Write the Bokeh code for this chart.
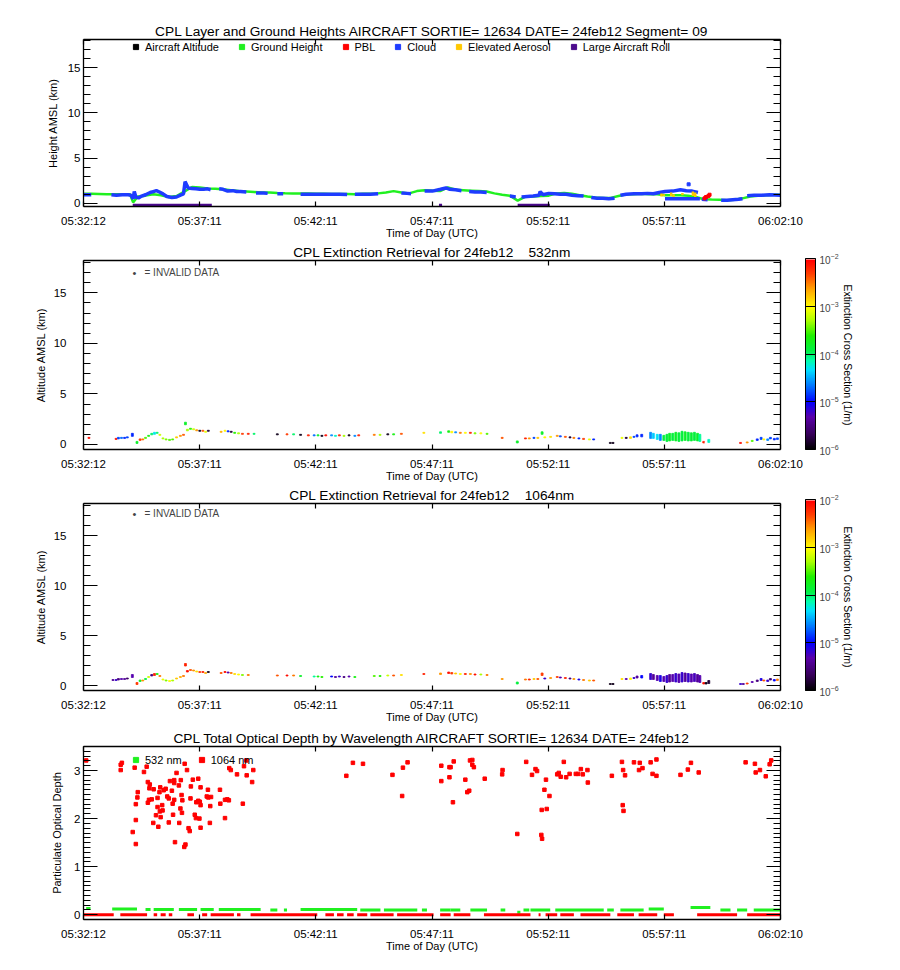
import math
from bokeh.plotting import figure
from bokeh.layouts import column
from bokeh.models import (Range1d, LinearAxis, FixedTicker, SingleIntervalTicker, Legend, LegendItem,
                          Label, ColorBar, LogColorMapper, LogTicker, ColumnDataSource)
from bokeh.embed import file_html
from bokeh.resources import INLINE

nan = float("nan")
FONT = "Liberation Sans"

# ---------------- time axis: seconds after 05:32:12 UTC ----------------
time_span = 1798
time_tick_labels = ["05:32:12", "05:37:11", "05:42:11", "05:47:11", "05:52:11", "05:57:11", "06:02:10"]

# ---------------- panel 1: layer and ground heights (km) ----------------
ground_t = [0, 20, 40, 60, 80, 100, 120, 128, 140, 160,
            180, 200, 220, 240, 260, 280, 300, 320, 340, 360,
            380, 400, 420, 440, 460, 480, 500, 520, 540, 560,
            580, 600, 620, 640, 660, 680, 700, 720, 740, 760,
            780, 800, 820, 840, 860, 880, 900, 920, 940, 960,
            980, 1000, 1020, 1040, 1060, 1080, 1100, 1120, 1140, 1160,
            1180, 1200, 1220, 1240, 1260, 1280, 1300, 1320, 1340, 1360,
            1380, 1400, 1420, 1440, 1460, 1480, 1500, 1520, 1540, 1560,
            1580, 1600, 1620, 1640, 1660, 1680, 1700, 1720, 1740, 1760,
            1780, 1798]
ground_h = [1.05, 1.05, 1.03, 1.0, 1.0, 1.0, 1.0, 0.1, 0.75, 0.85,
            1.0, 0.9, 0.7, 0.8, 1.3, 1.8, 1.75, 1.65, 1.6, 1.55,
            1.45, 1.35, 1.3, 1.25, 1.2, 1.2, 1.15, 1.12, 1.1, 1.1,
            1.08, 1.05, 1.05, 1.03, 1.02, 1.02, 1.0, 1.05, 1.05, 1.1,
            1.2, 1.35, 1.2, 1.1, 1.35, 1.45, 1.4, 1.35, 1.75, 1.5,
            1.45, 1.4, 1.35, 1.3, 1.1, 0.95, 0.85, 0.3, 0.75, 0.75,
            0.8, 0.85, 1.1, 1.15, 1.05, 0.9, 0.75, 0.65, 0.6, 0.6,
            0.8, 1.0, 1.0, 1.05, 1.0, 1.0, 0.9, 0.9, 0.9, 0.85,
            0.7, 0.45, 0.42, 0.4, 0.35, 0.4, 0.55, 0.75, 0.85, 0.9,
            0.95, 0.95]

cloud_seg_t = [
    [0, 10, 20],
    [72, 85, 100, 115, 122, 124, 128, 131, 135, 142, 150, 160, 172, 180, 188, 196, 205, 215, 228, 240,
     250, 258, 262, 270, 280, 290, 300, 310, 320, 328],
    [350, 360, 372, 385, 395, 405, 420],
    [445, 465, 475],
    [500, 515],
    [560, 580, 600, 620, 640, 660, 680],
    [700, 720, 740, 760],
    [820, 835, 845],
    [880, 900, 921, 935, 945, 960, 975],
    [995, 1010, 1025, 1040],
    [1100, 1115],
    [1130, 1145, 1160, 1175, 1178, 1185, 1200, 1215, 1230, 1245, 1260, 1275, 1290],
    [1310, 1325, 1340, 1355, 1370],
    [1385, 1400, 1420, 1440, 1455, 1470, 1485, 1500, 1520, 1540, 1555, 1570, 1585],
    [1500, 1590],
    [1595, 1610],
    [1645, 1660, 1675, 1690, 1700],
    [1712, 1730, 1750, 1770, 1798],
]
cloud_seg_h = [
    [0.95, 0.95, 0.95],
    [0.95, 0.9, 0.95, 0.95, 0.9, 0.8, 0.5, 1.3, 0.7, 0.6, 0.8, 0.95, 1.2, 1.3, 1.4, 1.25, 1.05, 0.75, 0.65, 0.7,
     0.9, 1.05, 2.4, 1.7, 1.65, 1.6, 1.55, 1.55, 1.6, 1.5],
    [1.6, 1.55, 1.35, 1.4, 1.3, 1.3, 1.25],
    [1.15, 1.15, 1.1],
    [1.05, 1.05],
    [1.0, 1.0, 1.0, 1.0, 1.0, 1.0, 0.98],
    [1.0, 1.0, 1.0, 1.05],
    [1.15, 1.1, 1.05],
    [1.35, 1.35, 1.55, 1.7, 1.55, 1.5, 1.4],
    [1.3, 1.25, 1.25, 1.2],
    [0.8, 0.7],
    [0.7, 0.75, 0.8, 0.9, 1.3, 0.95, 1.1, 1.05, 1.0, 1.0, 0.9, 0.85, 0.8],
    [0.65, 0.55, 0.55, 0.5, 0.55],
    [0.9, 1.0, 1.05, 1.05, 1.1, 1.05, 1.2, 1.3, 1.35, 1.5, 1.4, 1.35, 1.2],
    [0.5, 0.5],
    [0.45, 0.4],
    [0.35, 0.35, 0.4, 0.45, 0.5],
    [0.85, 0.9, 0.9, 0.95, 0.9],
]
cloud_spot_t = [1561]
cloud_spot_h = [2.1]

aerosol_t = [1491, 1497, 1516, 1522, 1545, 1572, 1578]
aerosol_bot = [0.75, 0.8, 0.8, 0.7, 0.9, 0.8, 0.7]
aerosol_top = [1.1, 1.0, 1.2, 1.0, 1.15, 1.3, 1.2]

pbl_t = [1602, 1606, 1612, 1615]
pbl_h = [0.55, 0.7, 0.8, 0.95]

roll_start = [127, 917, 1120]
roll_end = [331, 925, 1203]
roll_flag_level = -0.22

# ---------------- panels 2 & 3: extinction retrievals ----------------
ext_t = [8, 14, 76, 84, 90, 98, 106, 113, 126, 138,
         146, 153, 160, 168, 176, 183, 190, 197, 205, 213,
         222, 230, 240, 250, 258, 263, 268, 276, 284, 292,
         300, 308, 315, 322, 355, 365, 373, 381, 390, 400,
         410, 425, 440, 500, 525, 542, 560, 580, 595, 605,
         615, 625, 640, 650, 660, 672, 685, 700, 710, 750,
         765, 785, 800, 820, 878, 921, 942, 950, 960, 972,
         985, 998, 1010, 1025, 1041, 1080, 1119, 1140, 1150, 1162,
         1172, 1183, 1190, 1205, 1222, 1230, 1243, 1255, 1265, 1278,
         1290, 1305, 1316, 1359, 1366, 1389, 1400, 1411, 1420, 1428,
         1440, 1463, 1470, 1480, 1488, 1497, 1505, 1512, 1520, 1528,
         1536, 1544, 1552, 1560, 1568, 1576, 1584, 1590, 1600, 1606,
         1613, 1695, 1702, 1712, 1725, 1738, 1748, 1755, 1765, 1772, 1782, 1790]
ext_bot = [0.6, 0.6, 0.5, 0.5, 0.55, 0.6, 0.6, 0.65, 0.8, 0.1,
           0.4, 0.45, 0.6, 0.8, 0.95, 1.0, 1.1, 0.9, 0.55, 0.45,
           0.4, 0.45, 0.65, 0.8, 0.9, 1.95, 1.35, 1.5, 1.45, 1.35,
           1.3, 1.3, 1.2, 1.3, 1.2, 1.3, 1.25, 1.2, 1.1, 1.05,
           1.0, 1.0, 1.0, 0.95, 0.95, 0.95, 0.9, 0.85, 0.85, 0.85,
           0.8, 0.85, 0.85, 0.8, 0.85, 0.8, 0.85, 0.8, 0.85, 0.9,
           0.9, 0.95, 0.95, 1.0, 1.1, 1.1, 1.2, 1.15, 1.15, 1.1,
           1.1, 1.1, 1.05, 1.05, 1.0, 0.6, 0.15, 0.55, 0.55, 0.6,
           0.6, 1.0, 0.65, 0.7, 0.8, 0.75, 0.7, 0.65, 0.6, 0.55,
           0.5, 0.45, 0.45, 0.1, 0.1, 0.6, 0.6, 0.6, 0.7, 0.75,
           0.75, 0.6, 0.6, 0.5, 0.4, 0.4, 0.3, 0.35, 0.4, 0.35,
           0.3, 0.35, 0.4, 0.35, 0.35, 0.4, 0.35, 0.3, 0.15, 0.15,
           0.2, 0.1, 0.1, 0.15, 0.3, 0.4, 0.5, 0.45, 0.4, 0.55, 0.45, 0.5]
ext_top = [0.7, 0.7, 0.6, 0.6, 0.7, 0.7, 0.7, 0.75, 1.1, 0.3,
           0.55, 0.55, 0.7, 0.9, 1.1, 1.2, 1.2, 1.0, 0.65, 0.55,
           0.5, 0.55, 0.75, 0.9, 1.0, 2.2, 1.5, 1.6, 1.55, 1.45,
           1.4, 1.4, 1.3, 1.4, 1.3, 1.4, 1.35, 1.3, 1.2, 1.15,
           1.1, 1.1, 1.1, 1.05, 1.05, 1.05, 1.0, 0.95, 0.95, 0.95,
           0.9, 0.95, 0.95, 0.9, 0.95, 0.9, 0.95, 0.9, 0.95, 1.0,
           1.0, 1.05, 1.05, 1.1, 1.2, 1.25, 1.35, 1.3, 1.25, 1.2,
           1.2, 1.2, 1.15, 1.15, 1.1, 0.7, 0.35, 0.65, 0.65, 0.7,
           0.7, 1.25, 0.75, 0.8, 0.9, 0.85, 0.8, 0.75, 0.7, 0.65,
           0.6, 0.55, 0.55, 0.2, 0.2, 0.7, 0.7, 0.75, 0.8, 0.95,
           1.0, 1.2, 1.1, 1.0, 1.0, 0.9, 1.0, 1.1, 1.1, 1.2,
           1.15, 1.3, 1.25, 1.2, 1.15, 1.2, 1.1, 1.0, 0.3, 0.3,
           0.5, 0.2, 0.2, 0.25, 0.4, 0.55, 0.7, 0.55, 0.55, 0.7, 0.6, 0.65]
# log10 of extinction cross section (1/m)
ext532_log = [-2.0, -2.1, -2.0, -2.1, -4.8, -4.7, -4.9, -4.8, -4.9, -3.8,
              -2.3, -2.5, -3.5, -3.7, -4.0, -4.3, -4.0, -3.2, -3.3, -3.4,
              -3.5, -3.5, -2.8, -2.6, -2.4, -3.8, -3.3, -3.6, -3.2, -2.6,
              -5.9, -2.4, -3.1, -5.8, -2.7, -3.0, -4.9, -5.8, -3.6, -3.3,
              -2.3, -2.2, -4.0, -5.9, -2.3, -4.0, -5.9, -2.2, -4.7, -3.8,
              -5.9, -2.1, -4.6, -4.2, -2.2, -3.3, -5.9, -4.6, -2.2, -2.5,
              -3.3, -5.9, -3.7, -2.4, -2.9, -4.0, -3.7, -3.0, -4.6, -2.5,
              -3.0, -2.2, -3.4, -3.0, -3.5, -2.4, -3.8, -2.2, -2.6, -4.8,
              -2.8, -3.8, -3.0, -2.9, -2.6, -4.8, -2.4, -5.8, -2.5, -4.9,
              -2.3, -3.1, -4.9, -5.9, -5.9, -3.1, -5.8, -2.9, -4.8, -4.9,
              -4.9, -4.6, -4.4, -4.3, -4.6, -3.9, -3.9, -3.8, -3.9, -3.8,
              -3.9, -3.9, -3.8, -3.9, -3.85, -3.9, -3.8, -4.1, -2.2, -2.0,
              -4.2, -2.1, -2.0, -2.6, -3.5, -4.9, -4.8, -3.0, -4.6, -4.8, -4.9, -4.8]
ext1064_log = [nan, nan, -5.4, -5.2, -5.5, -5.3, -5.4, -5.6, -5.3, -2.3,
               -3.8, -2.6, -3.9, -3.2, -5.5, -2.2, -3.7, -2.5, -3.1, -3.4,
               -3.0, -3.3, -2.8, -2.7, -2.5, -2.2, -2.1, -2.4, -2.6, -2.9,
               -2.3, -2.2, -2.7, -5.9, -2.4, -2.1, -5.3, -2.5, -2.9, -3.0,
               -3.4, -2.5, nan, -2.4, -2.1, -2.5, -3.8, nan, -4.1, -3.7,
               -3.6, nan, -5.0, -5.4, -5.2, -5.5, -5.3, -3.7, nan, -3.5,
               -3.6, -3.2, -2.4, -2.9, -2.2, -2.6, -2.1, -2.3, -2.8, -3.0,
               -2.2, -2.6, -2.1, -3.3, -2.5, -2.6, -3.9, -2.5, -2.2, -2.8,
               -2.4, -2.3, -5.2, -2.6, -2.3, -5.3, -2.2, -5.5, -2.6, -5.1,
               -2.5, -2.8, -2.4, -5.9, -5.9, -2.9, -5.3, -3.0, -5.2, -5.4,
               -5.0, -5.2, -5.4, -5.3, -5.1, -5.3, -5.2, -5.4, -5.3, -5.2,
               -5.3, -5.2, -5.4, -5.2, -5.3, -5.25, -5.4, -5.3, -2.1, -5.9,
               -5.8, -5.2, -5.4, -2.3, -5.3, -5.5, -5.1, -2.4, -5.2, -5.6, -5.0, -2.5]

# ---------------- panel 4: total optical depth ----------------
od1064_t = [7, 99, 96, 96, 132, 163, 156, 140, 139, 135, 135, 127, 135, 166, 171, 170, 181, 169, 166, 176,
            198, 196, 191, 191, 203, 197, 187, 199, 180, 193, 204, 207, 212, 216, 220, 223, 234, 234, 246, 251,
            240, 234, 230, 228, 231, 220, 236, 263, 260, 247, 253, 255, 250, 254, 261, 267, 277, 282, 296, 276,
            291, 300, 302, 287, 290, 299, 302, 271, 274, 302, 321, 318, 329, 322, 327, 326, 296, 352, 353, 365,
            365, 371, 375, 411, 376, 380, 396, 414, 421, 435, 438, 420, 678, 695, 721, 797, 822, 824, 836, 923,
            923, 944, 944, 947, 953, 955, 985, 990, 995, 997, 1003, 1003, 1007, 1035, 1080, 1081, 1119, 1142, 1157, 1166,
            1170, 1182, 1183, 1181, 1189, 1193, 1195, 1202, 1222, 1226, 1231, 1239, 1245, 1254, 1270, 1276, 1283, 1288, 1300, 1301,
            1363, 1389, 1392, 1397, 1391, 1393, 1420, 1435, 1442, 1433, 1463, 1468, 1478, 1478, 1540, 1559, 1567, 1587, 1708, 1732,
            1734, 1745, 1760, 1770, 1774]
od1064_v = [3.21, 3.16, 3.12, 3.01, 3.06, 3.08, 2.97, 2.55, 2.44, 2.30, 1.97, 1.72, 1.47, 2.76, 2.71, 2.63, 2.61, 2.39, 2.33, 2.40,
            2.65, 2.55, 2.43, 2.24, 2.28, 2.15, 2.07, 2.03, 1.91, 1.83, 2.17, 2.59, 2.62, 2.46, 2.42, 2.78, 2.80, 2.74, 2.69, 2.80,
            2.95, 2.39, 2.31, 2.58, 2.08, 1.92, 1.51, 1.46, 1.41, 1.91, 2.49, 2.38, 2.21, 2.12, 3.14, 3.01, 2.67, 2.81, 2.83, 2.42,
            2.34, 2.35, 2.28, 2.08, 2.01, 2.00, 1.81, 1.80, 1.74, 2.65, 2.60, 2.46, 2.45, 2.44, 2.26, 1.91, 2.37, 2.60, 2.31, 2.01,
            2.39, 2.40, 2.38, 2.31, 3.05, 3.01, 2.92, 3.09, 2.90, 2.76, 3.01, 3.21, 2.89, 3.16, 3.14, 2.91, 2.47, 3.06, 3.17, 3.10,
            2.78, 3.07, 2.86, 3.07, 2.34, 3.19, 2.81, 2.55, 2.58, 3.21, 3.22, 3.12, 3.07, 2.83, 2.92, 3.01, 1.68, 3.18, 2.91, 3.03,
            2.99, 2.18, 1.58, 1.66, 2.60, 2.81, 2.20, 2.47, 2.92, 2.95, 2.87, 3.18, 2.86, 2.93, 2.93, 2.93, 3.03, 2.92, 3.01, 2.75,
            2.89, 3.18, 3.01, 2.90, 2.28, 2.16, 3.17, 3.16, 3.05, 3.01, 3.17, 2.93, 3.23, 2.89, 2.91, 3.02, 3.16, 2.96, 3.17, 3.14,
            2.96, 3.01, 2.88, 3.13, 3.21]

od1064_zero_start = [0, 95, 181, 199, 220, 268, 306, 328, 396, 431, 624, 654, 680, 706, 740, 809, 920, 955,
                     1033, 1174, 1192, 1230, 1282, 1377, 1432, 1497, 1583, 1712]
od1064_zero_end = [78, 164, 190, 212, 229, 285, 319, 388, 405, 603, 646, 671, 697, 732, 800, 903, 947, 998,
                   1153, 1179, 1222, 1265, 1359, 1420, 1480, 1523, 1686, 1798]
od1064_zero_v = 0.0

od532_start = [7, 74, 160, 181, 246, 302, 349, 482, 517, 560, 714, 775, 873, 920, 947, 998, 1076, 1119,
               1135, 1153, 1217, 1351, 1385, 1458, 1566, 1643, 1686, 1729]
od532_end = [18, 138, 173, 233, 293, 336, 457, 500, 525, 706, 766, 861, 886, 947, 972, 1041, 1088, 1127,
             1150, 1204, 1342, 1368, 1445, 1497, 1617, 1669, 1712, 1798]
od532_v = [0.13, 0.12, 0.11, 0.11, 0.11, 0.11, 0.11, 0.1, 0.1, 0.11, 0.1, 0.1, 0.1, 0.1, 0.1, 0.1, 0.1, 0.05,
           0.1, 0.1, 0.1, 0.1, 0.1, 0.12, 0.15, 0.1, 0.1, 0.1]

# ---------------- styling ----------------
GREEN = "#20f020"
BLUE = "#1e3cff"
RED = "#ff0000"
YELLOW = "#ffc800"
PURPLE = "#4b0a8c"
BLACK = "#000000"

W = 892
FRAME_L = 83
FRAME_R = 112
TITLE_SIZE = "13.7px"
EXT_RANGE = (-0.5, 18.2)

tick_pos = [round(k * time_span / 6) for k in range(7)]


def rainbow_white(n=256):
    anchors = [(0.0, (0, 0, 0)), (0.08, (55, 0, 90)), (0.17, (90, 0, 170)), (0.25, (0, 0, 255)),
               (0.33, (0, 110, 255)), (0.42, (0, 225, 255)), (0.47, (0, 255, 170)), (0.52, (0, 240, 70)),
               (0.60, (30, 240, 0)), (0.68, (170, 255, 0)), (0.75, (255, 255, 0)), (0.85, (255, 160, 0)),
               (0.93, (255, 60, 0)), (1.0, (255, 0, 0))]
    pal = []
    for i in range(n - 2):
        f = i / (n - 3)
        for j in range(len(anchors) - 1):
            f0, c0 = anchors[j]
            f1, c1 = anchors[j + 1]
            if f0 <= f <= f1:
                w = (f - f0) / (f1 - f0)
                c = tuple(int(round(c0[k] + w * (c1[k] - c0[k]))) for k in range(3))
                break
        pal.append("#%02x%02x%02x" % c)
    pal += ["#ffffff", "#ffffff"]
    return pal


PALETTE = rainbow_white()


def style_axis(ax, tick_in, minor_in, labels=True, standoff=3, size="11.5px"):
    ax.major_tick_in = tick_in
    ax.major_tick_out = 0
    ax.minor_tick_in = minor_in
    ax.minor_tick_out = 0
    ax.major_tick_line_color = BLACK
    ax.minor_tick_line_color = BLACK if minor_in else None
    ax.axis_line_color = BLACK
    ax.axis_line_width = 1.3
    ax.major_tick_line_width = 1.2
    ax.minor_tick_line_width = 1.0
    ax.major_label_text_font = FONT
    ax.axis_label_text_font = FONT
    ax.axis_label_text_font_style = "normal"
    ax.axis_label_text_font_size = "11px"
    ax.axis_label_text_color = BLACK
    if labels:
        ax.major_label_text_color = BLACK
        ax.major_label_text_font_size = size
        ax.major_label_standoff = standoff
    else:
        ax.major_label_text_color = None
        ax.major_label_text_font_size = "1px"
        ax.major_label_standoff = 0


def make_fig(height, top, bottom, yr, title, y_interval, y_minor, y_label, y_standoff, ylab_standoff):
    p = figure(width=W, height=height, x_range=Range1d(0, time_span), y_range=Range1d(*yr),
               output_backend="svg", toolbar_location=None, x_axis_type=None, y_axis_type=None,
               min_border_left=FRAME_L, min_border_right=FRAME_R, min_border_top=top, min_border_bottom=bottom,
               title=title)
    p.outline_line_color = None
    p.background_fill_color = "white"
    p.border_fill_color = "white"
    p.title.text_font = FONT
    p.title.text_font_size = TITLE_SIZE
    p.title.text_font_style = "normal"
    p.title.align = "center"
    p.title.standoff = 2
    p.title.text_color = BLACK

    xt = FixedTicker(ticks=tick_pos, minor_ticks=[])
    overrides = {t: lab for t, lab in zip(tick_pos, time_tick_labels)}
    xb = LinearAxis(ticker=xt, axis_label="Time of Day (UTC)", major_label_overrides=overrides)
    style_axis(xb, 5, 0, True, standoff=8)
    xb.axis_label_standoff = -3
    p.add_layout(xb, "below")
    xa = LinearAxis(ticker=FixedTicker(ticks=tick_pos, minor_ticks=[]))
    style_axis(xa, 5, 0, False)
    p.add_layout(xa, "above")

    yl = LinearAxis(ticker=SingleIntervalTicker(interval=y_interval, num_minor_ticks=y_minor), axis_label=y_label)
    style_axis(yl, 14, 7, True, standoff=y_standoff)
    yl.axis_label_standoff = ylab_standoff
    p.add_layout(yl, "left")
    yr_ax = LinearAxis(ticker=SingleIntervalTicker(interval=y_interval, num_minor_ticks=y_minor))
    style_axis(yr_ax, 14, 7, False)
    p.add_layout(yr_ax, "right")
    return p


def legend_row(p, labels, colors, loc, spacing, size=5):
    items = []
    for lab, col in zip(labels, colors):
        # legend proxy: one undrawn (NaN) point carrying the marker style
        r = p.scatter(x=[nan], y=[nan], marker="square", size=size, fill_color=col, line_color=col)
        items.append(LegendItem(label=lab, renderers=[r]))
    lg = Legend(items=items, orientation="horizontal", location=loc, spacing=spacing,
                glyph_width=13, glyph_height=13, label_height=13, label_standoff=3,
                padding=0, margin=0, background_fill_alpha=0, border_line_color=None,
                label_text_font=FONT, label_text_font_size="11px", label_text_color=BLACK)
    p.add_layout(lg, "center")


# ---------------- panel 1 ----------------
p1 = make_fig(241, 39, 32, (-0.35, 18.1),
              "CPL Layer and Ground Heights AIRCRAFT SORTIE= 12634 DATE= 24feb12 Segment= 09",
              5, 5, "Height AMSL (km)", 3, 6)
p1.line(ground_t, ground_h, line_color=GREEN, line_width=2.5)
p1.multi_line(cloud_seg_t, cloud_seg_h, line_color=BLUE, line_width=3.5)
p1.scatter(cloud_spot_t, cloud_spot_h, marker="square", size=3, color=BLUE)
p1.segment(x0=aerosol_t, x1=aerosol_t, y0=aerosol_bot, y1=aerosol_top, line_color=YELLOW, line_width=2.5)
p1.scatter(pbl_t, pbl_h, marker="square", size=3, color=RED)
p1.segment(x0=roll_start, x1=roll_end, y0=[roll_flag_level] * len(roll_start),
           y1=[roll_flag_level] * len(roll_start), line_color=PURPLE, line_width=3)
legend_row(p1, ["Aircraft Altitude", "Ground Height", "PBL", "Cloud", "Elevated Aerosol", "Large Aircraft Roll"],
           [BLACK, GREEN, RED, BLUE, YELLOW, PURPLE], (46, 153), 16)

# ---------------- panels 2 and 3 ----------------
mapper = LogColorMapper(palette=PALETTE, low=1e-6, high=1e-2)


def ext_panel(height, top, bottom, title, logs):
    p = make_fig(height, top, bottom, EXT_RANGE, title, 5, 5, "Altitude AMSL (km)", 17, 4)
    keep = [i for i, v in enumerate(logs) if not math.isnan(v)]
    src = ColumnDataSource(dict(
        left=[ext_t[i] - 2.5 for i in keep], right=[ext_t[i] + 2.5 for i in keep],
        bottom=[ext_bot[i] for i in keep], top=[ext_top[i] for i in keep],
        ext=[10 ** logs[i] for i in keep]))
    p.quad(left="left", right="right", bottom="bottom", top="top", source=src,
           fill_color={"field": "ext", "transform": mapper},
           line_color={"field": "ext", "transform": mapper}, line_width=0.8)
    fh = height - top - bottom
    p.add_layout(Label(x=51, y=fh - 14, x_units="screen", y_units="screen", text="\u2022",
                       text_font=FONT, text_font_size="11px", text_align="center", text_baseline="middle"))
    p.add_layout(Label(x=61, y=fh - 14, x_units="screen", y_units="screen", text="=  INVALID DATA",
                       text_font=FONT, text_font_size="10px", text_align="left", text_baseline="middle"))
    cb = ColorBar(color_mapper=mapper, ticker=LogTicker(), width=10, height=fh,
                  padding=0, margin=0, location=(25, 0),
                  major_tick_in=10, major_tick_out=0, major_tick_line_color=BLACK,
                  minor_tick_line_color=None, bar_line_color=BLACK, label_standoff=4,
                  major_label_text_font=FONT, major_label_text_font_size="10px",
                  background_fill_color=None, border_line_color=None)
    p.add_layout(cb, "right")
    # outer right axis that only carries the colour bar's title
    tax = LinearAxis(ticker=FixedTicker(ticks=[]), axis_label="Extinction Cross Section (1/m)")
    tax.axis_line_color = None
    tax.major_tick_line_color = None
    tax.minor_tick_line_color = None
    tax.major_label_text_color = None
    tax.major_label_text_font_size = "1px"
    tax.major_label_standoff = 0
    tax.axis_label_text_font = FONT
    tax.axis_label_text_font_size = "10.5px"
    tax.axis_label_text_font_style = "normal"
    tax.axis_label_text_color = BLACK
    tax.axis_label_standoff = 0
    p.add_layout(tax, "right")
    return p


p2 = ext_panel(243, 19, 33, "CPL Extinction Retrieval for 24feb12\u00a0\u00a0\u00a0\u00a0532nm", ext532_log)
p3 = ext_panel(241, 18, 32, "CPL Extinction Retrieval for 24feb12\u00a0\u00a0\u00a0\u00a01064nm", ext1064_log)

# ---------------- panel 4 ----------------
p4 = make_fig(237, 21, 43, (-0.1, 3.5),
              "CPL Total Optical Depth by Wavelength AIRCRAFT SORTIE= 12634 DATE= 24feb12",
              1, 10, "Particulate Optical Depth", 3, 8)
p4.segment(x0=od532_start, x1=od532_end, y0=od532_v, y1=od532_v, line_color=GREEN, line_width=3)
p4.segment(x0=od1064_zero_start, x1=od1064_zero_end, y0=[od1064_zero_v] * len(od1064_zero_start),
           y1=[od1064_zero_v] * len(od1064_zero_start), line_color=RED, line_width=3)
p4.scatter(od1064_t, od1064_v, marker="square", size=3.5, color=RED)
legend_row(p4, ["532 nm", "1064 nm"], [GREEN, RED], (46, 153), 13)

layout = column(p1, p2, p3, p4, spacing=0)
open("out.html", "w").write(file_html(layout, INLINE))
